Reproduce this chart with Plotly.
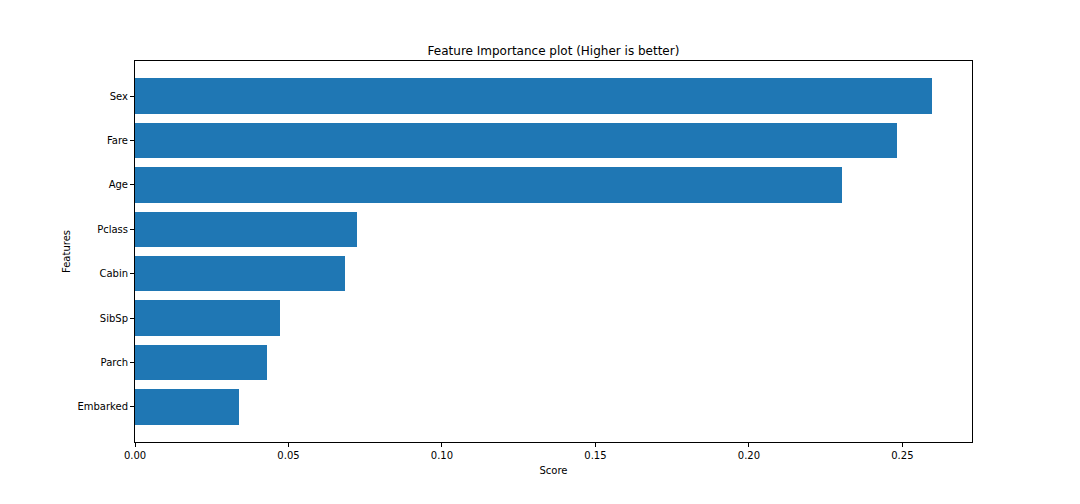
import plotly.graph_objects as go

features = ["Embarked", "Parch", "SibSp", "Cabin", "Pclass", "Age", "Fare", "Sex"]
scores = [0.0338, 0.0429, 0.0472, 0.0684, 0.0723, 0.2303, 0.2483, 0.2597]
x_ticks = [0.00, 0.05, 0.10, 0.15, 0.20, 0.25]
x_tick_labels = ["0.00", "0.05", "0.10", "0.15", "0.20", "0.25"]

fig = go.Figure(go.Bar(
    x=scores, y=features, orientation="h",
    marker=dict(color="#1f77b4", line=dict(width=0)),
    width=0.8,
))

axis_font = dict(family="DejaVu Sans", size=10, color="black")
fig.update_layout(
    width=1080, height=504,
    margin=dict(l=127, r=116, t=53, b=70),
    paper_bgcolor="white", plot_bgcolor="white",
    showlegend=False,
    font=axis_font,
    title=dict(text="Feature Importance plot (Higher is better)",
               font=dict(family="DejaVu Sans", size=12, color="black"),
               x=0.5, xanchor="center", xref="paper", y=1, yref="paper",
               yanchor="bottom", pad=dict(b=6)),
    bargap=0,
)
fig.update_xaxes(
    range=[0, max(scores) * 1.05],
    tickvals=x_ticks, ticktext=x_tick_labels,
    showgrid=False, zeroline=False,
    showline=True, linecolor="black", linewidth=1, mirror=True,
    ticks="outside", ticklen=4, tickcolor="black", tickwidth=1,
    tickfont=axis_font,
    title=dict(text="Score", font=axis_font, standoff=6),
)
fig.update_yaxes(
    range=[-0.79, 7.79],
    showgrid=False, zeroline=False,
    showline=True, linecolor="black", linewidth=1, mirror=True,
    ticks="outside", ticklen=4, tickcolor="black", tickwidth=1,
    tickfont=axis_font,
    title=dict(text="Features", font=axis_font, standoff=4),
)

fig.write_html("out.html")
